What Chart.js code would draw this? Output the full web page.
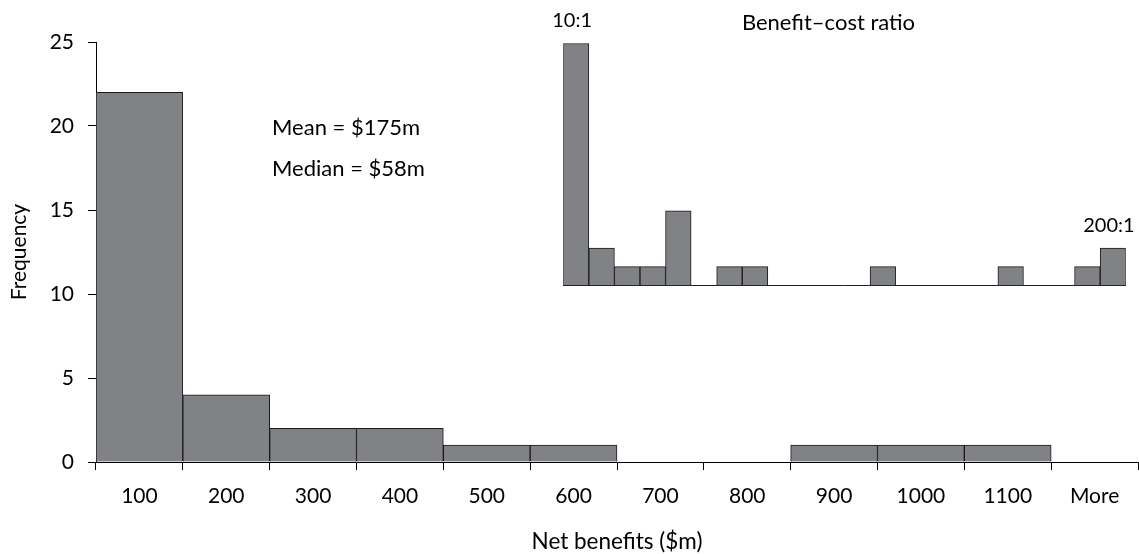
<!DOCTYPE html>
<html>
<head>
<meta charset="utf-8">
<script src="https://cdn.jsdelivr.net/npm/chart.js@4"></script>
<style>
  body { margin: 0; background: #fff; }
  #wrap { position: relative; width: 1139px; height: 554px; }
  #main { position: absolute; left: 0; top: 0; }
  #inset { position: absolute; left: 553px; top: 0; }
</style>
</head>
<body>
<div id="wrap">
  <canvas id="main" width="1139" height="554"></canvas>
  <canvas id="inset" width="584" height="300"></canvas>
</div>
<script>
// main histogram: net benefits
const benefitLabels = ['100', '200', '300', '400', '500', '600', '700', '800', '900', '1000', '1100', 'More'];
const benefitCounts = [22, 4, 2, 2, 1, 1, 0, 0, 1, 1, 1, 0];
const yTicks = [0, 5, 10, 15, 20, 25];
const statLines = ['Mean = $175m', 'Median = $58m'];

// inset histogram: benefit-cost ratio (only the end bins are labelled)
const ratioTitle = 'Benefit\u2013cost ratio';
const ratioLabels = ['10:1', '', '', '', '', '', '', '', '', '', '', '', '', '', '', '', '', '', '', '', '', '200:1'];
const ratioCounts = [13, 2, 1, 1, 4, 0, 1, 1, 0, 0, 0, 0, 1, 0, 0, 0, 0, 1, 0, 0, 1, 2];

const FONT = 'Lato';
Chart.defaults.font.family = FONT;
Chart.defaults.font.size = 21;
Chart.defaults.color = '#000';

const barFill = '#818285';
const barEdge = '#1a1a1a';

const statsText = {
    id: 'statsText',
    afterDraw(chart) {
        const ctx = chart.ctx;
        ctx.save();
        ctx.font = '22px ' + FONT;
        ctx.fillStyle = '#000';
        ctx.textAlign = 'left';
        ctx.textBaseline = 'alphabetic';
        ctx.fillText(statLines[0], 272, 135);
        ctx.fillText(statLines[1], 272, 175.5);
        ctx.restore();
    }
};

new Chart(document.getElementById('main'), {
    type: 'bar',
    data: {
        labels: benefitLabels,
        datasets: [{
            data: benefitCounts,
            backgroundColor: barFill,
            borderColor: barEdge,
            borderWidth: 1,
            barPercentage: 1,
            categoryPercentage: 1
        }]
    },
    options: {
        responsive: false,
        animation: false,
        layout: { padding: { top: 42, right: 1, left: 0, bottom: 0 } },
        plugins: { legend: { display: false }, tooltip: { enabled: false } },
        scales: {
            x: {
                grid: { display: true, drawOnChartArea: false, tickLength: 8, color: '#000', offset: true },
                border: { display: true, color: '#000' },
                ticks: { padding: 14, maxRotation: 0 },
                title: { display: true, text: 'Net benefits ($m)', font: { size: 22.5 }, padding: { top: 0, bottom: -1 } },
                afterFit: s => { s.height = 92; }
            },
            y: {
                min: 0,
                max: 25,
                grid: { display: true, drawOnChartArea: false, tickLength: 8, color: '#000' },
                border: { display: true, color: '#000' },
                ticks: { padding: 14 },
                afterBuildTicks: s => { s.ticks = yTicks.map(v => ({ value: v })); },
                title: { display: true, text: 'Frequency', padding: { top: 6.5, bottom: 0 } },
                afterFit: s => { s.width = 96; }
            }
        }
    },
    plugins: [statsText]
});

const ratioText = {
    id: 'ratioText',
    afterDatasetsDraw(chart) {
        const ctx = chart.ctx;
        const bars = chart.getDatasetMeta(0).data;
        ctx.save();
        ctx.fillStyle = '#000';
        ctx.textAlign = 'center';
        ctx.textBaseline = 'alphabetic';
        ctx.font = '20px ' + FONT;
        ratioLabels.forEach((lab, i) => {
            if (!lab) return;
            ctx.fillText(lab, bars[i].x - 4, bars[i].y - 16.5);
        });
        ctx.font = '22px ' + FONT;
        ctx.fillText(ratioTitle, 275.5, 30);
        ctx.restore();
    }
};

new Chart(document.getElementById('inset'), {
    type: 'bar',
    data: {
        labels: ratioLabels,
        datasets: [{
            data: ratioCounts,
            backgroundColor: barFill,
            borderColor: barEdge,
            borderWidth: 1,
            barPercentage: 1,
            categoryPercentage: 1
        }]
    },
    options: {
        responsive: false,
        animation: false,
        layout: { padding: { left: 10.3, right: 11.3, top: 24.9, bottom: 14.7 } },
        plugins: { legend: { display: false }, tooltip: { enabled: false } },
        scales: {
            x: {
                grid: { display: false },
                ticks: { display: false },
                border: { display: true, color: '#222' },
                afterFit: s => { s.height = 0; }
            },
            y: { display: false, min: 0, max: 14 }
        }
    },
    plugins: [ratioText]
});
</script>
</body>
</html>
